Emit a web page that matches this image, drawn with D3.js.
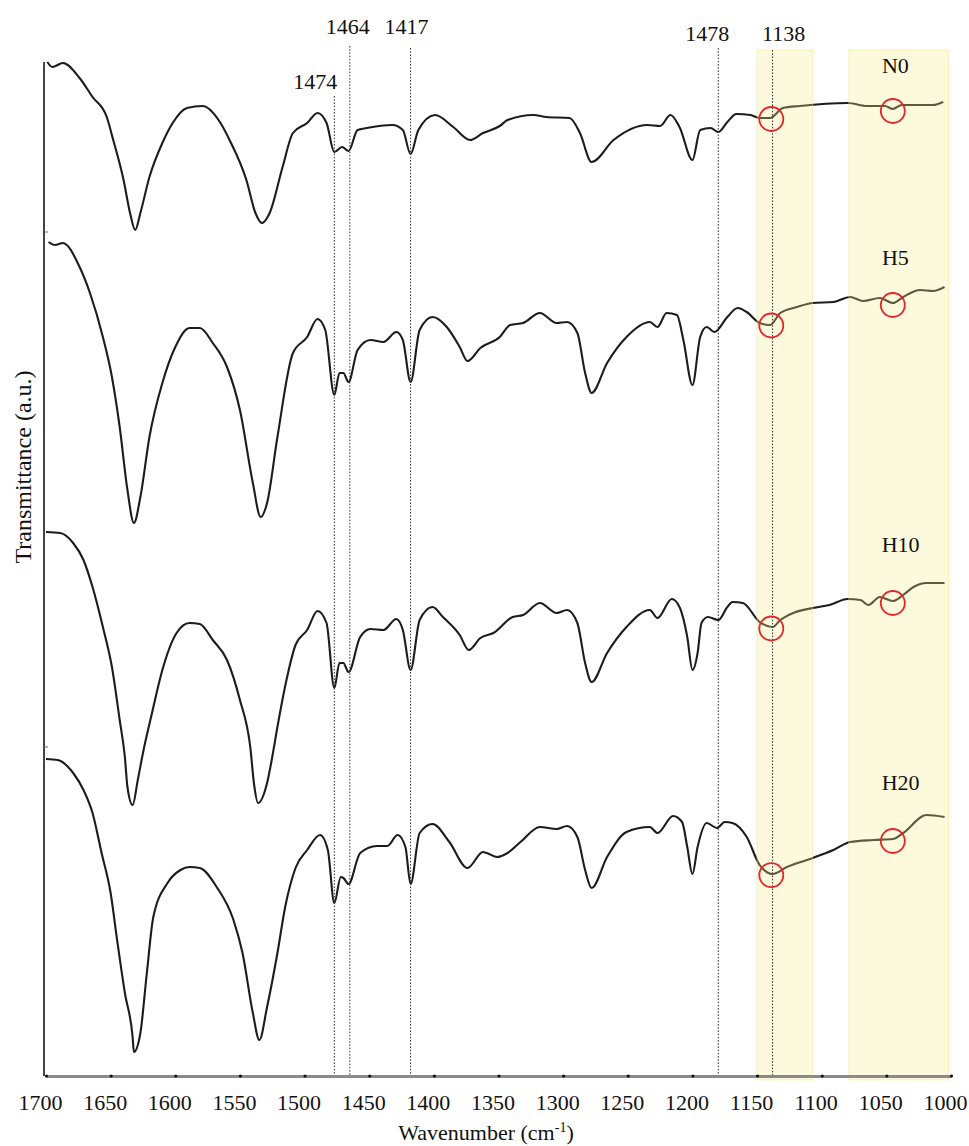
<!DOCTYPE html>
<html>
<head>
<meta charset="utf-8">
<script src="https://cdn.jsdelivr.net/npm/d3@7"></script>
<style>
  html, body { margin: 0; padding: 0; background: #fff; }
  svg { display: block; }
  text { font-family: "Liberation Serif", "Times New Roman", serif; fill: #111; }
</style>
</head>
<body>
<svg id="chart" width="969" height="1146"></svg>
<script>
// FTIR spectra, stacked (wavenumber in cm-1, transmittance in arbitrary units)
const seriesNames = ["N0", "H5", "H10", "H20"];

const spectrumN0 = [
  [1699,1014],[1695,1009],[1687,1013],[1674,998],[1664,979],[1653,959],[1648,936],[1640,896],
  [1635,863],[1631,846],[1627,863],[1620,899],[1610,933],[1602,953],[1591,968],[1579,970],
  [1565,953],[1558,936],[1545,896],[1538,863],[1533,853],[1527,863],[1517,909],[1509,943],
  [1498,953],[1490,963],[1483,953],[1477,924],[1471,929],[1466,925],[1459,946],[1452,948],
  [1432,951],[1424,946],[1418,922],[1412,946],[1399,961],[1385,949],[1372,936],[1362,943],
  [1349,950],[1343,956],[1323,961],[1313,959],[1295,958],[1287,943],[1278,914],[1261,936],
  [1235,951],[1225,950],[1217,961],[1210,949],[1200,916],[1194,946],[1186,948],[1180,944],
  [1173,954],[1166,962],[1155,961],[1148,958],[1140,958],[1130,968],[1117,970],[1080,973],
  [1065,970],[1051,970],[1045,967],[1038,971],[1014,971],[1006,974]
];

const spectrumH5 = [
  [1698,834],[1693,831],[1687,833],[1674,809],[1666,783],[1656,739],[1649,699],[1643,649],
  [1637,586],[1632,553],[1627,579],[1620,639],[1610,693],[1600,729],[1589,748],[1581,748],
  [1571,733],[1560,709],[1550,666],[1540,593],[1534,559],[1529,573],[1521,639],[1509,723],
  [1498,739],[1490,757],[1484,746],[1477,681],[1473,703],[1470,703],[1466,694],[1459,726],
  [1449,736],[1439,734],[1429,744],[1424,736],[1418,694],[1411,746],[1401,759],[1390,749],
  [1380,729],[1374,715],[1364,728],[1349,739],[1341,751],[1331,753],[1318,763],[1305,753],
  [1297,754],[1289,743],[1283,703],[1278,683],[1266,713],[1251,739],[1233,754],[1227,749],
  [1220,763],[1212,761],[1207,736],[1200,691],[1194,739],[1189,749],[1183,744],[1173,759],
  [1165,768],[1158,764],[1148,753],[1140,751],[1132,763],[1119,769],[1107,773],[1091,774],
  [1078,779],[1068,775],[1055,778],[1045,773],[1037,779],[1024,786],[1014,785],[1005,789]
];

const spectrumH10 = [
  [1700,544],[1689,543],[1679,533],[1671,516],[1664,489],[1656,449],[1649,409],[1643,356],
  [1639,319],[1637,289],[1633,271],[1629,296],[1625,323],[1618,363],[1610,406],[1599,443],
  [1589,453],[1581,452],[1571,436],[1560,416],[1550,376],[1542,329],[1539,291],[1536,273],
  [1529,293],[1525,319],[1521,349],[1514,396],[1507,431],[1498,446],[1490,465],[1483,453],
  [1477,388],[1473,413],[1470,413],[1466,404],[1457,439],[1449,447],[1439,446],[1429,457],
  [1424,446],[1418,406],[1411,456],[1401,469],[1393,459],[1380,441],[1373,426],[1364,438],
  [1354,443],[1339,459],[1331,461],[1318,473],[1305,463],[1297,466],[1289,453],[1283,413],
  [1278,394],[1266,423],[1251,449],[1233,466],[1227,458],[1216,477],[1210,469],[1204,439],
  [1200,406],[1196,423],[1193,453],[1188,459],[1180,456],[1173,469],[1169,474],[1161,473],
  [1148,454],[1138,449],[1132,456],[1122,463],[1107,468],[1094,471],[1080,477],[1070,476],
  [1064,471],[1055,479],[1045,475],[1037,481],[1029,489],[1019,493],[1005,493]
];

const spectrumH20 = [
  [1700,317],[1691,316],[1679,303],[1671,286],[1664,263],[1657,223],[1650,183],[1645,136],
  [1639,83],[1633,39],[1632,24],[1627,43],[1622,103],[1617,159],[1606,193],[1596,206],
  [1589,209],[1581,208],[1568,189],[1555,156],[1548,123],[1540,63],[1535,36],[1529,69],
  [1521,123],[1515,169],[1507,208],[1498,226],[1488,241],[1482,226],[1477,173],[1472,199],
  [1470,198],[1466,192],[1457,223],[1444,230],[1436,230],[1428,241],[1422,229],[1418,192],
  [1411,243],[1401,252],[1388,234],[1374,208],[1362,224],[1359,223],[1351,219],[1343,223],
  [1333,234],[1318,249],[1305,247],[1297,250],[1289,239],[1283,206],[1278,188],[1266,219],
  [1251,244],[1233,249],[1227,243],[1215,260],[1208,254],[1204,229],[1200,202],[1196,229],
  [1189,253],[1181,248],[1175,254],[1169,253],[1158,239],[1148,211],[1138,202],[1127,209],
  [1107,218],[1091,226],[1078,234],[1060,236],[1045,237],[1037,243],[1019,261],[1005,259]
];

const spectra = [spectrumN0, spectrumH5, spectrumH10, spectrumH20];

// marked band positions and their printed labels
const markerWavenumbers = [1477, 1465, 1418, 1180, 1138];
const markerLabels = ["1474", "1464", "1417", "1478", "1138"];

// highlighted regions [from, to] in cm-1
const highlightBands = [[1150, 1107], [1079, 1002]];

// wavenumbers circled on every spectrum
const circledWavenumbers = [1139, 1045];

// series label anchors [wavenumber, a.u.]
const seriesLabelAnchors = [[1043, 1011], [1043, 819], [1039, 532], [1039, 294]];

const xTicks = [1700, 1650, 1600, 1550, 1500, 1450, 1400, 1350, 1300, 1250, 1200, 1150, 1100, 1050, 1000];

// ---- layout ----
const svg = d3.select("#chart");
const x = d3.scaleLinear().domain([1700, 1000]).range([46, 951]);
const y = d3.scaleLinear().domain([0, 1014]).range([1076, 62]);
const axisY = 1076;

// spectra
const line = d3.line()
  .x(d => x(d[0]))
  .y(d => y(d[1]))
  .curve(d3.curveMonotoneX);

svg.append("g").selectAll("path")
  .data(spectra)
  .join("path")
  .attr("d", line)
  .attr("fill", "none")
  .attr("stroke", "#1c1c1c")
  .attr("stroke-width", 2.1)
  .attr("stroke-linejoin", "round");

// translucent highlight bands over the spectra
svg.append("g").selectAll("rect")
  .data(highlightBands)
  .join("rect")
  .attr("x", d => x(d[0]))
  .attr("width", d => x(d[1]) - x(d[0]))
  .attr("y", 50)
  .attr("height", axisY + 4 - 50)
  .attr("fill", "#f7eb8a")
  .attr("fill-opacity", 0.3)
  .attr("stroke", "#efe07a")
  .attr("stroke-opacity", 0.45)
  .attr("stroke-width", 1);

// dotted reference lines with labels
const markerTops = [96, 46, 48, 48, 50];
const labelDx = [-19, -2, -4, -11, 11];
const labelY = [81, 26, 26, 33, 33];
const markers = svg.append("g");
markerWavenumbers.forEach((w, i) => {
  markers.append("line")
    .attr("x1", x(w)).attr("x2", x(w))
    .attr("y1", markerTops[i]).attr("y2", axisY)
    .attr("stroke", "#333")
    .attr("stroke-width", 1)
    .attr("stroke-dasharray", "1.6,1.6");
  markers.append("text")
    .attr("x", x(w) + labelDx[i])
    .attr("y", labelY[i])
    .attr("dy", "0.35em")
    .attr("text-anchor", "middle")
    .attr("font-size", 22)
    .text(markerLabels[i]);
});

// red circles on each spectrum
function valueAt(series, w) {
  for (let i = 0; i < series.length - 1; i++) {
    const a = series[i], b = series[i + 1];
    if (w <= a[0] && w >= b[0]) {
      const t = (a[0] - w) / (a[0] - b[0]);
      return a[1] + t * (b[1] - a[1]);
    }
  }
  return series[series.length - 1][1];
}
const circleData = [];
spectra.forEach(s => circledWavenumbers.forEach(w => circleData.push([w, valueAt(s, w)])));
svg.append("g").selectAll("circle")
  .data(circleData)
  .join("circle")
  .attr("cx", d => x(d[0]))
  .attr("cy", d => y(d[1]) + 2)
  .attr("r", 12)
  .attr("fill", "none")
  .attr("stroke", "#e3262a")
  .attr("stroke-width", 1.8);

// series names
svg.append("g").selectAll("text")
  .data(seriesNames)
  .join("text")
  .attr("x", (d, i) => x(seriesLabelAnchors[i][0]))
  .attr("y", (d, i) => y(seriesLabelAnchors[i][1]))
  .attr("dy", "0.35em")
  .attr("text-anchor", "middle")
  .attr("font-size", 22)
  .attr("fill", "#222")
  .text(d => d);

// y axis (no tick labels)
svg.append("line")
  .attr("x1", 44).attr("x2", 44)
  .attr("y1", 62).attr("y2", axisY)
  .attr("stroke", "#444")
  .attr("stroke-width", 2);
[232, 747].forEach(v => {
  svg.append("line")
    .attr("x1", 44).attr("x2", 48)
    .attr("y1", v).attr("y2", v)
    .attr("stroke", "#666").attr("stroke-width", 1);
});

svg.append("text")
  .attr("transform", "translate(23,467) rotate(-90)")
  .attr("dy", "0.35em")
  .attr("text-anchor", "middle")
  .attr("font-size", 24)
  .text("Transmittance (a.u.)");

// x axis
const xAxis = d3.axisBottom(x)
  .tickValues(xTicks)
  .tickSize(0)
  .tickPadding(18)
  .tickFormat(d3.format("d"));
const gx = svg.append("g").attr("transform", `translate(0,${axisY})`).call(xAxis);
gx.select(".domain").attr("stroke", "#8a8a8a").attr("stroke-width", 3);
gx.selectAll(".tick text")
  .attr("dx", -6)
  .attr("font-family", "'Liberation Serif', 'Times New Roman', serif")
  .attr("font-size", 22)
  .attr("fill", "#111");
gx.selectAll(".tick").append("circle")
  .attr("r", 1.6)
  .attr("fill", "#111");

const title = svg.append("text")
  .attr("x", 486)
  .attr("y", 1140)
  .attr("text-anchor", "middle")
  .attr("font-size", 22);
title.append("tspan").text("Wavenumber (cm");
title.append("tspan").attr("dy", -8).attr("font-size", 14).text("-1");
title.append("tspan").attr("dy", 8).text(")");
</script>
</body>
</html>
